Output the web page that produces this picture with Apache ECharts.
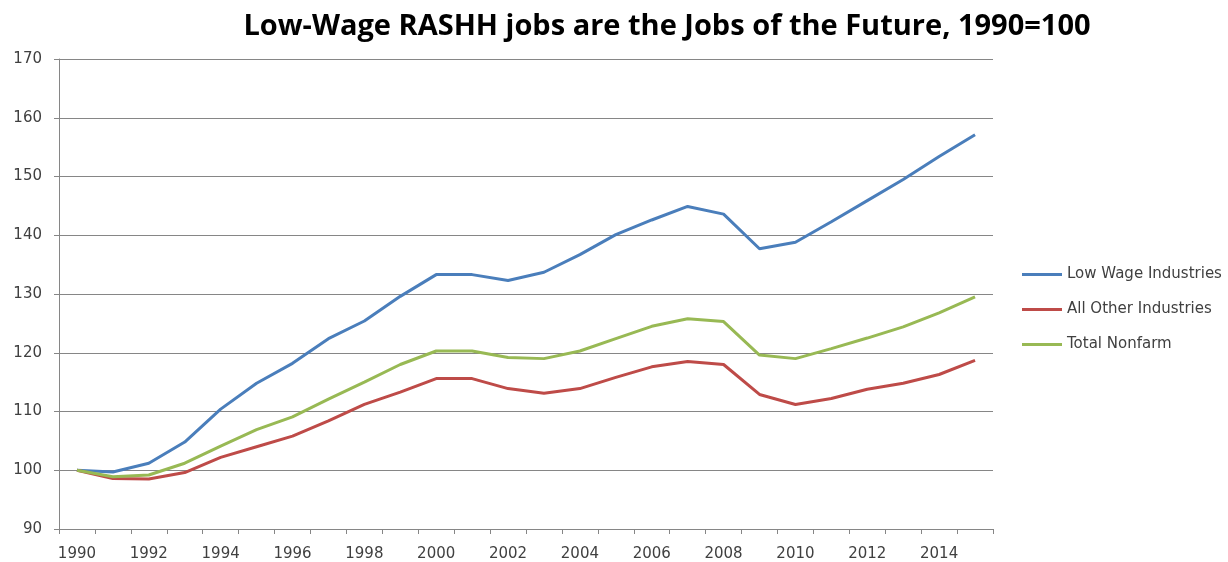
<!DOCTYPE html>
<html>
<head>
<meta charset="utf-8">
<script src="https://cdn.jsdelivr.net/npm/echarts@6/dist/echarts.min.js"></script>
<style>
  html, body { margin: 0; padding: 0; background: #fff; }
  #chart { width: 1228px; height: 562px; }
</style>
</head>
<body>
<div id="chart"></div>
<script>
const years = ['1990', '1991', '1992', '1993', '1994', '1995', '1996', '1997', '1998', '1999',
  '2000', '2001', '2002', '2003', '2004', '2005', '2006', '2007', '2008', '2009',
  '2010', '2011', '2012', '2013', '2014', '2015']

const lowWage = [100, 99.7, 101.2, 104.8, 110.4, 114.8, 118.2, 122.4, 125.4, 129.6,
  133.3, 133.3, 132.3, 133.7, 136.7, 140.1, 142.6, 144.9, 143.6, 137.7,
  138.8, 142.3, 145.9, 149.5, 153.4, 157.1]

const allOther = [100, 98.6, 98.5, 99.6, 102.2, 104.0, 105.8, 108.4, 111.2, 113.3,
  115.6, 115.6, 113.9, 113.1, 113.9, 115.8, 117.6, 118.5, 118.0, 112.9,
  111.2, 112.2, 113.8, 114.8, 116.3, 118.7]

const totalNonfarm = [100, 98.9, 99.2, 101.2, 104.1, 106.9, 109.1, 112.1, 115.0, 118.0,
  120.3, 120.3, 119.2, 119.0, 120.3, 122.4, 124.5, 125.8, 125.3, 119.6,
  119.0, 120.7, 122.5, 124.4, 126.8, 129.5]

const seriesNames = ['Low Wage Industries', 'All Other Industries', 'Total Nonfarm']
const seriesColors = ['#4A7EBB', '#BE4B48', '#98B954']

const chart = echarts.init(document.getElementById('chart'))

const axisGray = '#868686'
const labelColor = '#404040'
const labelFont = 'DejaVu Sans'

const option = {
  animation: false,
  title: {
    text: 'Low-Wage RASHH jobs are the Jobs of the Future, 1990=100',
    left: 662,
    textAlign: 'center',
    top: 7,
    textStyle: { fontFamily: 'Open Sans', fontWeight: 'bold', fontSize: 29, color: '#000' }
  },
  legend: {
    orient: 'vertical',
    left: 1017,
    top: 262,
    itemWidth: 40,
    itemHeight: 3,
    itemGap: 20,
    icon: 'rect',
    textStyle: { fontFamily: labelFont, fontSize: 15, color: labelColor },
    data: seriesNames
  },
  grid: { left: 59, right: 235, top: 59, bottom: 32 },
  xAxis: {
    type: 'category',
    data: years,
    boundaryGap: true,
    axisLine: { lineStyle: { color: axisGray, width: 1 } },
    axisTick: { show: true, interval: 0, length: 5, lineStyle: { color: axisGray } },
    axisLabel: { interval: 1, fontFamily: labelFont, fontSize: 15, color: labelColor, margin: 18 }
  },
  yAxis: {
    type: 'value',
    min: 90,
    max: 170,
    interval: 10,
    axisLine: { show: true, lineStyle: { color: axisGray, width: 1 } },
    axisTick: { show: true, length: 5, lineStyle: { color: axisGray } },
    axisLabel: { fontFamily: labelFont, fontSize: 15, color: labelColor, margin: 17 },
    splitLine: { lineStyle: { color: axisGray, width: 1 } }
  },
  series: [lowWage, allOther, totalNonfarm].map((d, i) => ({
    name: seriesNames[i],
    type: 'line',
    data: d,
    symbol: 'none',
    smooth: false,
    color: seriesColors[i],
    lineStyle: { width: 3, color: seriesColors[i] }
  }))
}

chart.setOption(option)
</script>
</body>
</html>
